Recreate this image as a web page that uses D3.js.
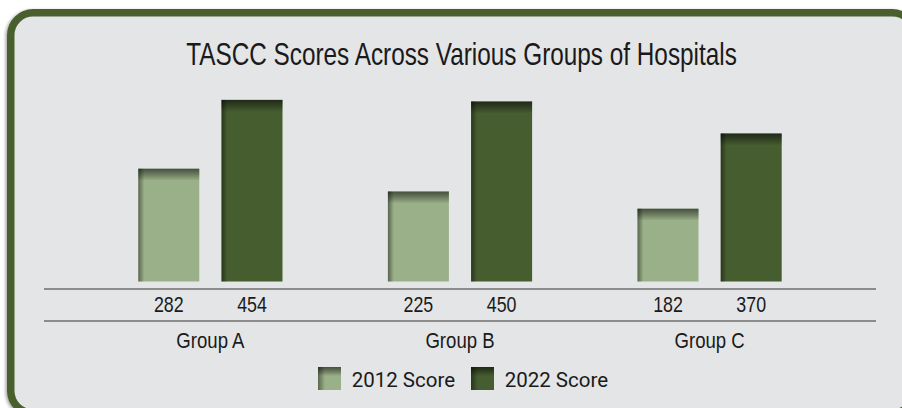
<!DOCTYPE html>
<html>
<head>
  <meta charset="UTF-8">
  <title>TASCC Scores</title>
  <script src="https://cdn.jsdelivr.net/npm/d3@7"></script>
  <style>
    body { margin: 0; background: #ffffff; overflow: hidden; }
    svg { display: block; overflow: hidden; }
    .narrow { font-family: "Liberation Sans", Arial, sans-serif; fill: #1a1a1a; }
    .legend text { font-family: Roboto, "Noto Sans", sans-serif; fill: #1a1a1a; }
  </style>
</head>
<body>
<div id="chart"></div>
<script>
  // chart data
  var groups = ["Group A", "Group B", "Group C"];
  var series = ["2012 Score", "2022 Score"];
  var scores2012 = [282, 225, 182];
  var scores2022 = [454, 450, 370];
  var seriesColors = ["#9ab088", "#465d30"];

  var width = 902, height = 408;

  var data = groups.map(function(g, i) {
    return { group: g, values: [
      { key: series[0], value: scores2012[i] },
      { key: series[1], value: scores2022[i] }
    ]};
  });

  var svg = d3.select("#chart").append("svg")
    .attr("width", width).attr("height", height);

  var defs = svg.append("defs");

  // soft shadow round the frame
  var shadow = defs.append("filter").attr("id", "frameShadow")
    .attr("x", "-5%").attr("y", "-5%").attr("width", "110%").attr("height", "110%");
  shadow.append("feDropShadow")
    .attr("dx", -1.5).attr("dy", 1).attr("stdDeviation", 1.8)
    .attr("flood-color", "#000").attr("flood-opacity", 0.35);

  // darkening gradients for the inner bevel of each bar
  var topGrad = defs.append("linearGradient").attr("id", "topShade")
    .attr("x1", 0).attr("y1", 0).attr("x2", 0).attr("y2", 1);
  topGrad.append("stop").attr("offset", "0%").attr("stop-color", "#000").attr("stop-opacity", 0.55);
  topGrad.append("stop").attr("offset", "45%").attr("stop-color", "#000").attr("stop-opacity", 0.32);
  topGrad.append("stop").attr("offset", "100%").attr("stop-color", "#000").attr("stop-opacity", 0);

  var leftGrad = defs.append("linearGradient").attr("id", "leftShade")
    .attr("x1", 0).attr("y1", 0).attr("x2", 1).attr("y2", 0);
  leftGrad.append("stop").attr("offset", "0%").attr("stop-color", "#000").attr("stop-opacity", 0.42);
  leftGrad.append("stop").attr("offset", "100%").attr("stop-color", "#000").attr("stop-opacity", 0);

  // frame (right and bottom edges run past the window)
  svg.append("rect")
    .attr("x", 10.75).attr("y", 12.75)
    .attr("width", 904).attr("height", 400.5)
    .attr("rx", 22.5).attr("ry", 22.5)
    .attr("fill", "#e4e5e7")
    .attr("stroke", "#48602e").attr("stroke-width", 7.5)
    .attr("filter", "url(#frameShadow)");

  // no condensed face is installed, so the regular one is squeezed sideways
  function narrowText(sel, x, y, size, squeeze) {
    return sel.append("text").attr("class", "narrow")
      .attr("transform", "translate(" + x + "," + y + ") scale(" + squeeze + ",1)")
      .attr("text-anchor", "middle")
      .style("font-size", size + "px");
  }

  // title
  narrowText(svg, 461.5, 65, 31, 0.785)
    .text("TASCC Scores Across Various Groups of Hospitals");

  // scales
  var x0 = d3.scaleBand().domain(groups)
    .range([44, 876]).paddingInner(1 / 3).paddingOuter(1 / 3);
  var x1 = d3.scaleBand().domain(series)
    .range([0, x0.bandwidth()]).paddingInner(0.267).paddingOuter(0.1335);
  var y = d3.scaleLinear().domain([0, 500]).range([281.5, 81.5]);
  var color = d3.scaleOrdinal().domain(series).range(seriesColors);

  // table-like axis lines
  var lineY = [289, 321];
  svg.selectAll(".axisline").data(lineY).enter().append("line")
    .attr("class", "axisline")
    .attr("x1", 44).attr("x2", 876)
    .attr("y1", function(d) { return d; }).attr("y2", function(d) { return d; })
    .attr("stroke", "#8c8c8c").attr("stroke-width", 2);

  // bars
  var g = svg.selectAll(".grp").data(data).enter().append("g")
    .attr("class", "grp")
    .attr("transform", function(d) { return "translate(" + x0(d.group) + ",0)"; });

  var bar = g.selectAll(".bar").data(function(d) { return d.values; }).enter().append("g")
    .attr("class", "bar");

  bar.append("rect")
    .attr("x", function(d) { return x1(d.key); })
    .attr("y", function(d) { return y(d.value); })
    .attr("width", x1.bandwidth())
    .attr("height", function(d) { return y(0) - y(d.value); })
    .attr("fill", function(d) { return color(d.key); });

  bar.append("rect")
    .attr("x", function(d) { return x1(d.key); })
    .attr("y", function(d) { return y(d.value); })
    .attr("width", 6)
    .attr("height", function(d) { return y(0) - y(d.value); })
    .attr("fill", "url(#leftShade)");

  bar.append("rect")
    .attr("x", function(d) { return x1(d.key); })
    .attr("y", function(d) { return y(d.value); })
    .attr("width", x1.bandwidth())
    .attr("height", 12)
    .attr("fill", "url(#topShade)");

  // value labels under each bar
  bar.each(function(d) {
    narrowText(d3.select(this), x1(d.key) + x1.bandwidth() / 2, 311.7, 22, 0.81).text(d.value);
  });

  // group labels
  g.each(function(d) {
    narrowText(d3.select(this), x0.bandwidth() / 2, 348, 22, 0.845).text(d.group);
  });

  // legend
  var legendX = [318, 471];
  var legend = svg.append("g").attr("class", "legend");
  var item = legend.selectAll(".item").data(series).enter().append("g")
    .attr("class", "item")
    .attr("transform", function(d, i) { return "translate(" + legendX[i] + ",367)"; });

  item.append("rect").attr("width", 23).attr("height", 23)
    .attr("fill", function(d) { return color(d); });
  item.append("rect").attr("width", 7).attr("height", 23).attr("fill", "url(#leftShade)");
  item.append("rect").attr("width", 23).attr("height", 9).attr("fill", "url(#topShade)");

  item.append("text")
    .attr("x", 33.7).attr("y", 19.9)
    .style("font-size", "20.5px")
    .text(function(d) { return d; });
</script>
</body>
</html>
